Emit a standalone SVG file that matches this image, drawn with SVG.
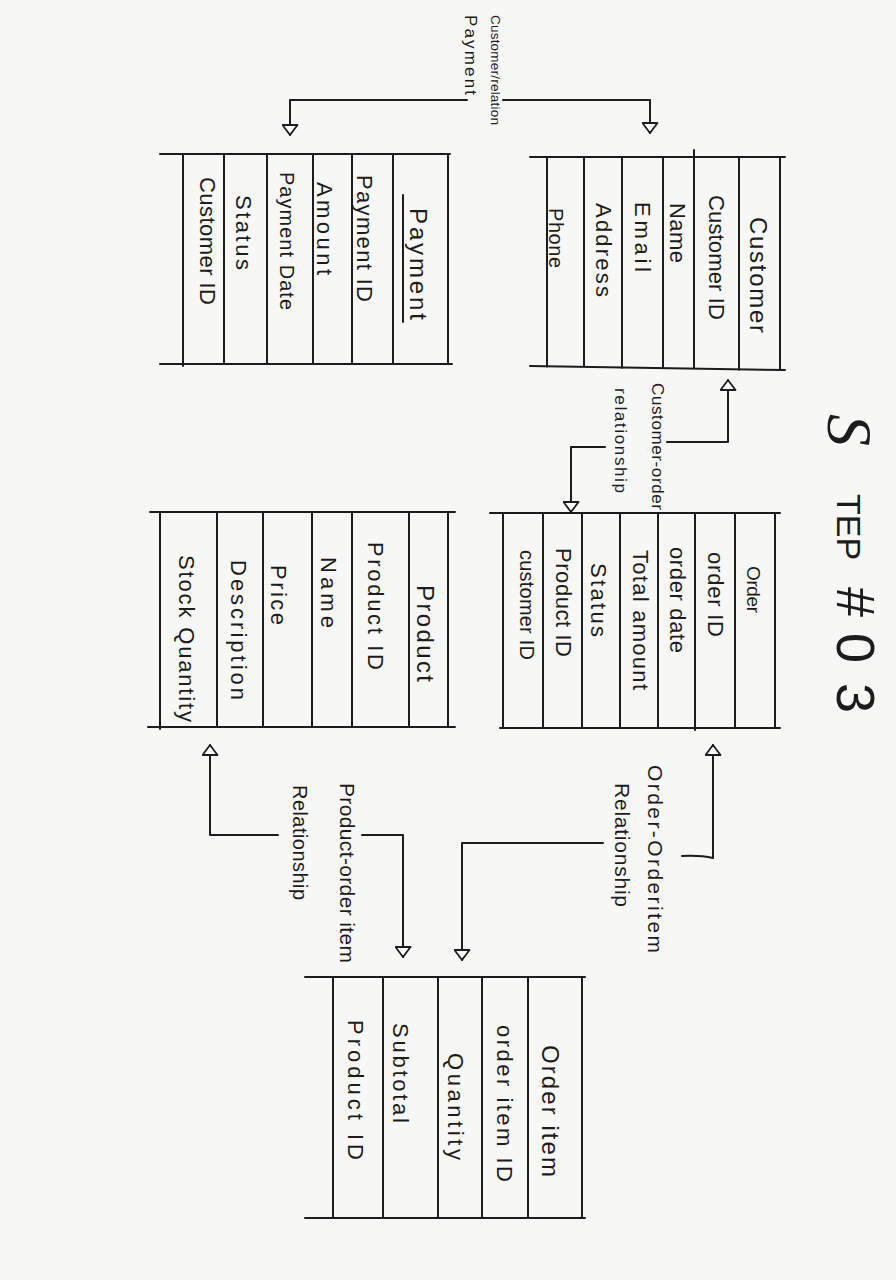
<svg xmlns="http://www.w3.org/2000/svg" width="896" height="1280" viewBox="0 0 896 1280">
<defs>
<style>
.ln{fill:none;stroke:#1c1c1c;stroke-width:2;stroke-linecap:round;stroke-linejoin:round}
.t{font-family:"Liberation Sans",Arial,sans-serif;fill:#1c1c1c;dominant-baseline:central;font-size:22px}
.s{font-size:20px}
.h{font-size:24px}
.lb{font-family:"Liberation Sans",Arial,sans-serif;fill:#1c1c1c;dominant-baseline:central}
</style>
<marker id="tri" viewBox="0 0 12 17" refX="11" refY="8.5" markerWidth="12" markerHeight="17" markerUnits="userSpaceOnUse" orient="auto">
<path d="M1,1 L11,8.5 L1,16 Z" fill="#ffffff" stroke="#1c1c1c" stroke-width="1.8" stroke-linejoin="round"/>
</marker>
</defs>
<rect x="0" y="0" width="896" height="1280" fill="#f7f7f5"/>

<g id="title">
<text transform="translate(828,414) rotate(90)" style="font-family:'Liberation Sans',Arial,sans-serif" fill="#1c1c1c"><tspan style="font-family:'Liberation Serif',serif;font-style:italic" font-size="64">S</tspan><tspan font-size="34" dx="48" dy="-9">TEP </tspan><tspan font-size="54" dx="18">#</tspan><tspan font-size="54" dx="16">0</tspan><tspan font-size="54" dx="20">3</tspan></text>
</g>

<g id="customer">
<path class="ln" d="M530 157 H785 M530 366 L785 370 M547 157 V367 M584 157 V367 M622 157 V368 M663 157 V368 M694 150 V368 M739 157 V370 M780 157 V370"/>
<text class="t h" transform="translate(758,217) rotate(90)" textLength="116">Customer</text>
<text class="t" transform="translate(716,195) rotate(90)" textLength="125">Customer ID</text>
<text class="t" transform="translate(677,203) rotate(90)" textLength="60">Name</text>
<text class="t" transform="translate(642,202) rotate(90)" textLength="70">Email</text>
<text class="t" transform="translate(603,203) rotate(90)" textLength="94">Address</text>
<text class="t s" transform="translate(556,208) rotate(90)" textLength="60">Phone</text>
</g>

<g id="payment">
<path class="ln" d="M160 154 H450 M160 364 H452 M183 154 V366 M224 154 V364 M267 154 V364 M313 154 V364 M352 154 V364 M393 154 V364 M448 154 V364"/>
<text class="t h" transform="translate(418,208) rotate(90)" textLength="112">Payment</text>
<line class="ln" x1="403" y1="195" x2="403" y2="322"/>
<text class="t" transform="translate(364,175) rotate(90)" textLength="127">Payment ID</text>
<text class="t" transform="translate(324,182) rotate(90)" textLength="93">Amount</text>
<text class="t s" transform="translate(287,172) rotate(90)" textLength="138">Payment Date</text>
<text class="t" transform="translate(243,195) rotate(90)" textLength="75">Status</text>
<text class="t" transform="translate(207,177) rotate(90)" textLength="128">Customer ID</text>
</g>

<g id="order">
<path class="ln" d="M490 513 H780 M500 728 H780 M503 513 V728 M543 513 V728 M582 513 V728 M620 513 V728 M658 513 V728 M695 513 V730 M735 513 V728 M775 513 V728"/>
<text class="t" style="font-size:19px" transform="translate(753,566) rotate(90)" textLength="47">Order</text>
<text class="t" transform="translate(715,552) rotate(90)" textLength="85">order ID</text>
<text class="t" transform="translate(677,547) rotate(90)" textLength="106">order date</text>
<text class="t" transform="translate(640,550) rotate(90)" textLength="140">Total amount</text>
<text class="t" transform="translate(598,563) rotate(90)" textLength="74">Status</text>
<text class="t" transform="translate(563,548) rotate(90)" textLength="109">Product ID</text>
<text class="t s" transform="translate(527,550) rotate(90)" textLength="110">customer ID</text>
</g>

<g id="product">
<path class="ln" d="M150 512 H455 M148 727 H455 M160 512 V729 M217 512 V727 M263 512 V727 M312 512 V727 M352 512 V727 M409 512 V727 M448 512 V727"/>
<text class="t h" transform="translate(425,585) rotate(90)" textLength="97">Product</text>
<text class="t" transform="translate(375,542) rotate(90)" textLength="128">Product ID</text>
<text class="t" transform="translate(328,557) rotate(90)" textLength="71">Name</text>
<text class="t" transform="translate(278,565) rotate(90)" textLength="60">Price</text>
<text class="t" transform="translate(238,560) rotate(90)" textLength="140">Description</text>
<text class="t" transform="translate(186,555) rotate(90)" textLength="167">Stock Quantity</text>
</g>

<g id="order-item">
<path class="ln" d="M305 977 H585 M305 1218 H585 M333 977 V1218 M383 977 V1218 M438 977 V1218 M482 977 V1218 M528 977 V1218 M582 977 V1218"/>
<text class="t h" transform="translate(550,1045) rotate(90)" textLength="132">Order item</text>
<text class="t" transform="translate(504,1025) rotate(90)" textLength="157">order item ID</text>
<text class="t" transform="translate(455,1053) rotate(90)" textLength="107">Quantity</text>
<text class="t" transform="translate(400,1023) rotate(90)" textLength="100">Subtotal</text>
<text class="t" transform="translate(355,1020) rotate(90)" textLength="140">Product ID</text>
</g>

<g id="connectors">
<path class="ln" d="M467 100 H290 V135" marker-end="url(#tri)"/>
<path class="ln" d="M503 100 H650 V133" marker-end="url(#tri)"/>
<path class="ln" d="M667 442 H728 V380" marker-end="url(#tri)"/>
<path class="ln" d="M605 447 H571 V512" marker-end="url(#tri)"/>
<path class="ln" d="M682 856 Q700 855 713 858 V745" marker-end="url(#tri)"/>
<path class="ln" d="M603 843 H462 V960" marker-end="url(#tri)"/>
<path class="ln" d="M278 835 H210 V745" marker-end="url(#tri)"/>
<path class="ln" d="M362 835 H403 V957" marker-end="url(#tri)"/>
<text class="lb" font-size="13.5" transform="translate(495,15) rotate(90)" textLength="110">Customer/relation</text>
<text class="lb" font-size="17" transform="translate(470,15) rotate(90)" textLength="80">Payment</text>
<text class="lb" font-size="17" transform="translate(657,383) rotate(90)" textLength="127">Customer-order</text>
<text class="lb" font-size="17" transform="translate(620,388) rotate(90)" textLength="105">relationship</text>
<text class="lb" font-size="21" transform="translate(655,765) rotate(90)" textLength="188">Order-Orderitem</text>
<text class="lb" font-size="21" transform="translate(622,783) rotate(90)" textLength="124">Relationship</text>
<text class="lb" font-size="21" transform="translate(347,783) rotate(90)" textLength="180">Product-order item</text>
<text class="lb" font-size="20" transform="translate(300,785) rotate(90)" textLength="115">Relationship</text>
</g>
</svg>
